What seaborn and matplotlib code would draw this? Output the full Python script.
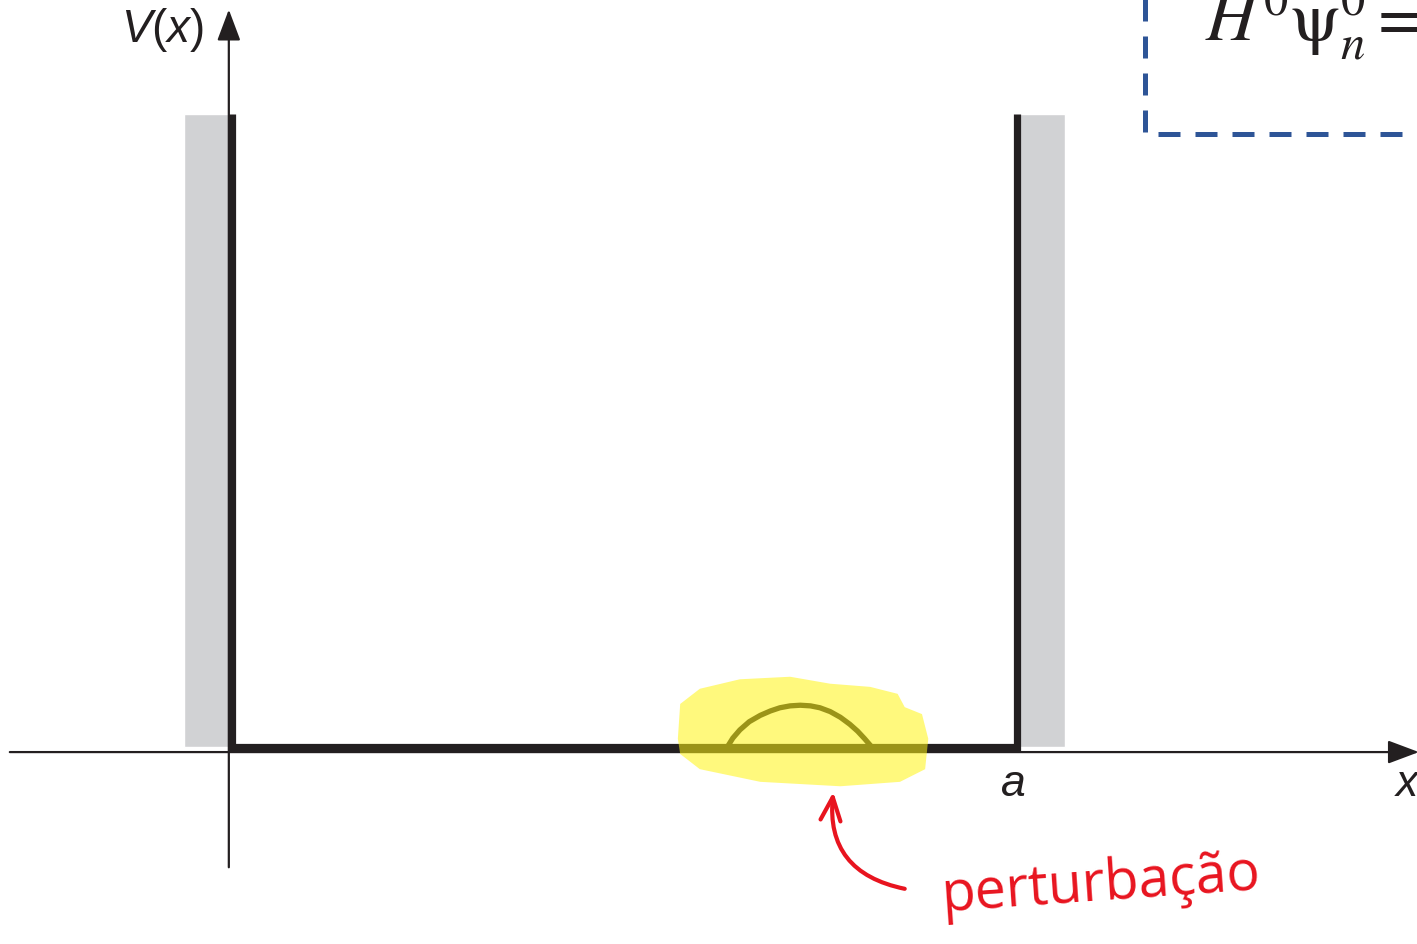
import numpy as np
import pandas as pd
import seaborn as sns
import matplotlib.pyplot as plt
from matplotlib.patches import Polygon

# infinite square well, x in units of a, V in units of wall height
well_x = [0.0, 0.0, 1.0, 1.0]
well_v = [1.0, 0.0, 0.0, 1.0]

# perturbation bump
bump_x = [0.631, 0.638, 0.647, 0.659, 0.673, 0.686, 0.698, 0.711, 0.724,
          0.737, 0.749, 0.762, 0.775, 0.787, 0.797, 0.806, 0.815]
bump_v = [0.0, 0.014, 0.027, 0.040, 0.050, 0.057, 0.062, 0.065, 0.066,
          0.065, 0.062, 0.056, 0.047, 0.036, 0.025, 0.013, 0.0]

# highlighter blob outline
blob_x = [0.568, 0.571, 0.596, 0.647, 0.711, 0.762, 0.813, 0.848, 0.857,
          0.879, 0.887, 0.883, 0.851, 0.775, 0.673, 0.596, 0.571]
blob_y = [0.013, 0.068, 0.092, 0.107, 0.111, 0.100, 0.095, 0.084, 0.063,
          0.052, 0.013, -0.035, -0.055, -0.062, -0.055, -0.035, -0.011]

wall_width = 0.061
label_v = "$V(x)$"
label_a = "a"
label_x = "x"
equation = r"$H^0\mathrm{\psi}_n^0 =$"
note = "perturbação"

sns.set_theme(style="white")
plt.rcParams["font.family"] = ["Liberation Sans", "DejaVu Sans"]
plt.rcParams["mathtext.fontset"] = "custom"
plt.rcParams["mathtext.it"] = "Liberation Sans:italic"
plt.rcParams["mathtext.rm"] = "Liberation Sans"

fig = plt.figure(figsize=(14.17, 9.45), dpi=100)
ax = fig.add_axes([0, 0, 1, 1])
ax.set_xlim(-0.2955, 1.5096)
ax.set_ylim(-0.3112, 1.1817)
ax.axis("off")

# grey walls
ax.bar([0.0, 1.0], [1.0, 1.0], width=[-wall_width, wall_width], align="edge",
       color="#d1d2d4", zorder=1)

# axes with arrows
arrow = dict(arrowstyle="-|>,head_length=1.6,head_width=0.6",
             color="#231f20", lw=1.6, shrinkA=0, shrinkB=0)
ax.annotate("", xy=(1.512, -0.008), xytext=(-0.283, -0.008),
            arrowprops=arrow, annotation_clip=False, zorder=2)
ax.annotate("", xy=(-0.004, 1.165), xytext=(-0.004, -0.190),
            arrowprops=arrow, annotation_clip=False, zorder=2)

# potential
df_well = pd.DataFrame({"x": well_x, "v": well_v})
sns.lineplot(data=df_well, x="x", y="v", sort=False, estimator=None,
             color="#231f20", lw=5.2, ax=ax, zorder=3)
ax.lines[-1].set_solid_joinstyle("miter")
ax.lines[-1].set_solid_capstyle("butt")
df_bump = pd.DataFrame({"x": bump_x, "v": bump_v})
sns.lineplot(data=df_bump, x="x", y="v", sort=False, estimator=None,
             color="#231f20", lw=3.8, ax=ax, zorder=3)

# yellow highlighter
ax.add_patch(Polygon(np.column_stack([blob_x, blob_y]), closed=True,
                     facecolor="#fff512", alpha=0.55, lw=0, zorder=4))

# labels
ax.text(-0.036, 1.134, label_v, fontsize=33, ha="right", va="center",
        color="#231f20")
ax.text(0.996, -0.058, label_a, fontsize=32, style="italic", ha="center",
        va="center", color="#231f20")
ax.text(1.482, -0.058, label_x, fontsize=32, style="italic", ha="left",
        va="center", color="#231f20")

# dashed box with equation
ax.plot([1.163, 1.163, 1.52], [1.19, 0.968, 0.968], color="#2e5597", lw=3.6,
        dashes=(4.4, 3.0), solid_capstyle="butt", dash_capstyle="butt", zorder=2)
ax.text(1.239, 1.117, equation, fontsize=50, ha="left", va="baseline",
        color="#231f20", math_fontfamily="stix")

# red handwritten note
ax.annotate("", xy=(0.766, -0.071), xytext=(0.857, -0.224),
            arrowprops=dict(arrowstyle="->,head_length=1.4,head_width=0.6",
                            color="#e8141f", lw=3, shrinkA=0, shrinkB=0,
                            connectionstyle="arc3,rad=-0.45"),
            annotation_clip=False, zorder=5)
ax.text(1.106, -0.216, note, fontsize=40, ha="center", va="center",
        color="#e8141f", rotation=4, family=["Open Sans", "DejaVu Sans"])

ax.set_xlabel("")
ax.set_ylabel("")
fig.savefig("out.png", dpi=100)
